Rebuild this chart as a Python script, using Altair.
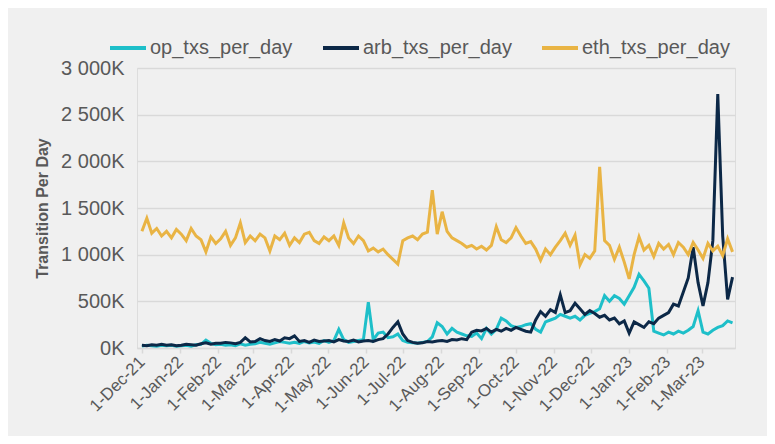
import altair as alt
import pandas as pd

# Dates: one reading every 4 days from 1-Dec-21
dates = pd.date_range("2021-12-01", periods=121, freq="4D").strftime("%Y-%m-%d").tolist()

series_names = ["op_txs_per_day", "arb_txs_per_day", "eth_txs_per_day"]

# values in thousands (K)
op_txs = [20, 30, 25, 20, 30, 25, 30, 20,
          25, 30, 20, 35, 40, 85, 50, 35,
          40, 30, 35, 25, 45, 30, 40,
          45, 60, 50, 40, 55, 70, 60, 50,
          60, 50, 70, 55, 65, 50, 80,
          60, 80, 200, 90, 60, 70, 80, 90,
          490, 90, 160, 170, 110, 120, 150, 80,
          60, 55, 50, 60, 70, 120, 270,
          230, 150, 210, 170, 150, 130, 125, 160,
          100, 210, 150, 200, 320, 290, 240, 220, 230, 250, 260, 200, 170, 280, 300, 320,
          360, 340, 320, 340, 300, 350, 370, 390, 420, 560, 500, 560, 530, 470, 560, 650,
          790, 720, 640, 180, 160, 140, 170, 150, 180, 160, 190, 230, 400, 170, 150, 190,
          220, 240, 290, 270]

arb_txs = [30, 25, 35, 30, 40, 30, 35, 25,
           30, 40, 35, 30, 45, 55, 40, 50,
           50, 60, 55, 45, 60, 110, 65,
           70, 100, 80, 70, 90, 75, 110, 100,
           130, 70, 80, 60, 85, 70, 75,
           80, 65, 90, 75, 70, 85, 65, 75,
           80, 70, 90, 100, 150, 220, 280, 150,
           80, 60, 50, 55, 70, 65, 75,
           80, 70, 90, 85, 100, 90, 170, 190,
           183, 210, 170, 200, 180, 210, 190, 220, 200, 180, 170, 300, 390, 340, 410, 380,
           570, 380, 400, 480, 420, 360, 400, 370, 330, 350, 300, 320, 260, 290, 160, 280,
           250, 220, 280, 260, 320, 350, 380, 470, 450, 600, 750, 1080, 700, 450, 700, 1150,
           2720, 1200, 520, 760]

eth_txs = [1250, 1390, 1230, 1280, 1200, 1250, 1180, 1270,
           1220, 1150, 1280, 1200, 1160, 1030, 1190, 1120,
           1170, 1250, 1100, 1180, 1340, 1130, 1200,
           1150, 1220, 1180, 1040, 1200, 1160, 1230, 1100,
           1180, 1130, 1220, 1240, 1150, 1120, 1190,
           1150, 1200, 1100, 1340, 1180, 1120, 1200, 1150,
           1040, 1070, 1030, 1060, 1000, 950, 900, 1150,
           1180, 1200, 1160, 1220, 1240, 1690, 1220,
           1460, 1250, 1180, 1150, 1120, 1080, 1100, 1060,
           1090, 1050, 1100, 1300, 1160, 1130, 1180, 1290, 1200, 1120, 1140, 1060, 940, 1060, 1000, 1080,
           1150, 1230, 1100, 1210, 890, 1000, 960, 1040, 1940, 1150, 1100, 950, 1080, 920, 740, 1000,
           1190, 1050, 1100, 980, 1120, 1060, 1110, 1000, 1130, 1080, 1000, 1130, 1050, 960, 1120, 1040,
           1090, 990, 1170, 1030]

y_ticks = [0, 500, 1000, 1500, 2000, 2500, 3000]
month_ticks = ["2021-12", "2022-01", "2022-02", "2022-03", "2022-04", "2022-05", "2022-06",
               "2022-07", "2022-08", "2022-09", "2022-10", "2022-11", "2022-12", "2023-01",
               "2023-02", "2023-03"]

rows = []
for name, vals in zip(series_names, [op_txs, arb_txs, eth_txs]):
    for d, v in zip(dates, vals):
        rows.append({"date": d, "series": name, "value": v})
df = pd.DataFrame(rows)

tick_vals = [alt.DateTime(year=int(m[:4]), month=int(m[5:]), date=1, utc=True) for m in month_ticks]

GRAY = "#595959"
GRID = "#d9d9d9"
BG = "#f0f0f0"

chart = alt.Chart(df).mark_line(strokeWidth=3).encode(
    x=alt.X("date:T",
            scale=alt.Scale(type="utc",
                            domain=[alt.DateTime(year=2021, month=11, date=27, utc=True),
                                    alt.DateTime(year=2023, month=3, date=28, utc=True)]),
            axis=alt.Axis(title=None, values=tick_vals,
                          labelExpr="utcFormat(datum.value, '%-d-%b-%y')",
                          labelAngle=-45, labelAlign="right", labelBaseline="middle",
                          labelFontSize=17, labelColor=GRAY, labelPadding=6,
                          grid=False, domainColor=GRID, domainWidth=1.5,
                          tickColor=GRID, tickSize=5, tickWidth=1.5, labelFlush=False,
                          labelOverlap=False)),
    y=alt.Y("value:Q",
            scale=alt.Scale(domain=[0, 3000], nice=False),
            axis=alt.Axis(title="Transition Per Day", values=y_ticks,
                          labelExpr="replace(format(datum.value, ','), ',', ' ') + 'K'",
                          labelFontSize=20, labelColor=GRAY, labelPadding=13,
                          domain=False, ticks=False, gridColor=GRID, gridWidth=1.5,
                          titleFontSize=16, titleFontWeight="bold", titleColor=GRAY,
                          titlePadding=10)),
    color=alt.Color("series:N",
                    scale=alt.Scale(domain=series_names,
                                    range=["#1ebfc9", "#0c2847", "#e9b444"]),
                    legend=alt.Legend(title=None, orient="none", direction="horizontal",
                                      legendX=-29, legendY=-40,
                                      symbolType="stroke", symbolSize=1296,
                                      symbolStrokeWidth=4, labelFontSize=20,
                                      labelColor=GRAY, columnPadding=22, labelOffset=2,
                                      padding=0)),
).properties(
    width=598, height=280,
    autosize=alt.AutoSizeParams(type="none"),
    padding={"left": 129, "top": 60, "right": 32, "bottom": 88},
    background=BG,
).configure_view(stroke=None, fill=BG).configure(font="Liberation Sans")

chart.save("out.html", embed_options={"renderer": "svg", "actions": False})
